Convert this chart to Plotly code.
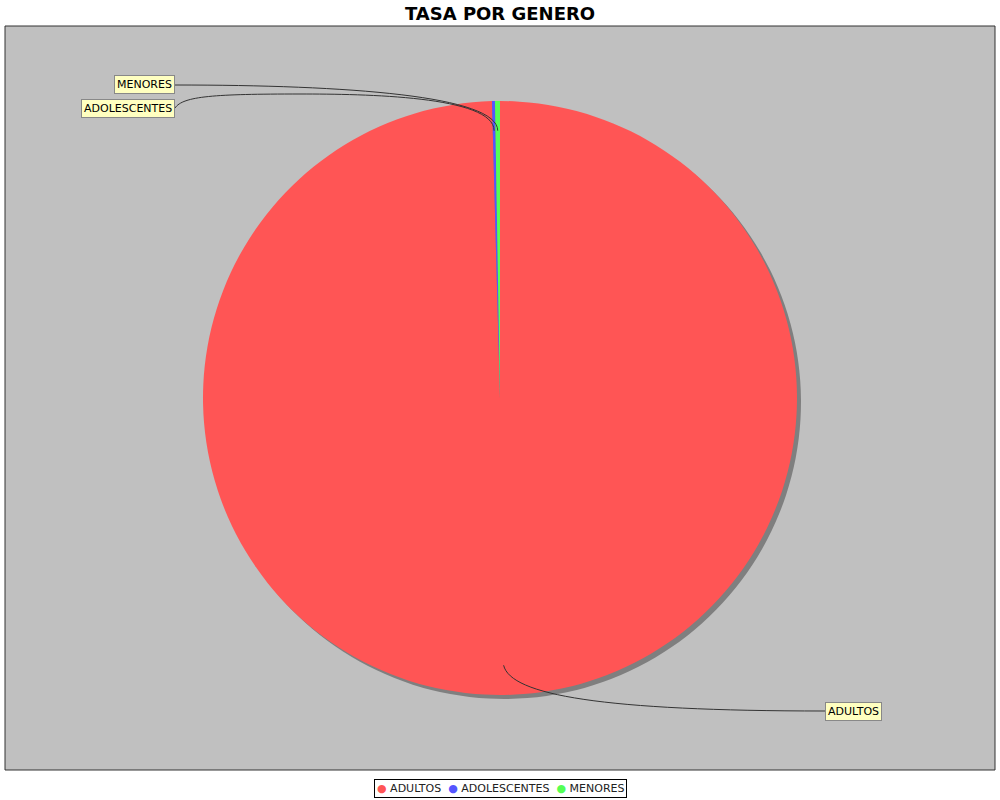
import math
import plotly.graph_objects as go

# ---- data ----
categories = ["ADULTOS", "ADOLESCENTES", "MENORES"]
values = [99.57, 0.16, 0.27]
colors = ["#FF5555", "#5555FF", "#55FF55"]
title_text = "TASA POR GENERO"

# ---- layout constants (pixels) ----
W, H = 1000, 800
CX, CY, R = 500, 398, 297
SHADOW = 4
PLOT_BOX = (5, 26, 995, 770)
# label boxes: (x, y, xanchor)
label_pos = {
    "ADULTOS": (825, 711, "left"),
    "ADOLESCENTES": (175, 108, "right"),
    "MENORES": (175, 85, "right"),
}


def px(x):
    return x / W


def py(y):
    return 1 - y / H


fig = go.Figure()

# shadow pie
fig.add_trace(go.Pie(
    labels=categories, values=values, sort=False, direction="clockwise", rotation=0,
    marker=dict(colors=["#7F7F7F"] * len(values), line=dict(width=0)),
    textinfo="none", hoverinfo="skip", showlegend=False,
    domain=dict(x=[px(CX - R + SHADOW), px(CX + R + SHADOW)],
                y=[py(CY + R + SHADOW), py(CY - R + SHADOW)]),
))
# main pie
fig.add_trace(go.Pie(
    labels=categories, values=values, sort=False, direction="clockwise", rotation=0,
    marker=dict(colors=colors, line=dict(width=0)),
    textinfo="none", showlegend=False,
    domain=dict(x=[px(CX - R), px(CX + R)], y=[py(CY + R), py(CY - R)]),
))

shapes = [dict(type="rect", xref="paper", yref="paper", layer="below",
               x0=px(PLOT_BOX[0]), x1=px(PLOT_BOX[2]), y0=py(PLOT_BOX[3]), y1=py(PLOT_BOX[1]),
               fillcolor="#C0C0C0", line=dict(color="#333333", width=1))]

annotations = []
total = sum(values)
cum = 0.0
for cat, v in zip(categories, values):
    mid = (cum + v / 2) / total * 2 * math.pi
    cum += v
    ax = CX + 0.9 * R * math.sin(mid)
    ay = CY - 0.9 * R * math.cos(mid)
    lx, ly, anchor = label_pos[cat]
    if cat == "ADULTOS":
        pts = [(ax, ay), (ax + 7, ay + 30), (ax + 100, ly), (lx, ly)]
        path = "M {} {} C {} {} {} {} {} {}".format(*[c for p in pts for c in (px(p[0]), py(p[1]))])
    elif cat == "MENORES":
        pts = [(ax, ay), (ax, ay - 35), (ax - 150, ly), (lx, ly)]
        path = "M {} {} C {} {} {} {} {} {}".format(*[c for p in pts for c in (px(p[0]), py(p[1]))])
    else:
        pts = [(ax, ay), (ax, ay - 35), (ax - 130, 94), (300, 94), (215, 94), (183, 96), (lx, ly)]
        coords = [c for p in pts for c in (px(p[0]), py(p[1]))]
        path = "M {} {} C {} {} {} {} {} {} C {} {} {} {} {} {}".format(*coords)
    shapes.append(dict(type="path", xref="paper", yref="paper", path=path,
                       line=dict(color="#333333", width=1)))
    annotations.append(dict(
        x=px(lx), y=py(ly), xref="paper", yref="paper", xanchor=anchor, yanchor="middle",
        text=cat, showarrow=False, bgcolor="#FFFFC0", bordercolor="#888888",
        borderwidth=1, borderpad=2,
        font=dict(family="DejaVu Sans", size=11, color="#000000"),
    ))

# legend built from categories/colors
legend_text = "  ".join(
    "<span style='color:{}'>●</span> {}".format(c, cat) for cat, c in zip(categories, colors)
)
annotations.append(dict(
    x=0.5, y=py(788), xref="paper", yref="paper", xanchor="center", yanchor="middle",
    text=legend_text, showarrow=False, bgcolor="#FFFFFF", bordercolor="#000000",
    borderwidth=1, borderpad=2,
    font=dict(family="DejaVu Sans", size=11, color="#222222"),
))

fig.update_layout(
    width=W, height=H, autosize=False,
    margin=dict(l=0, r=0, t=0, b=0),
    paper_bgcolor="#FFFFFF", plot_bgcolor="#FFFFFF",
    title=dict(text="<b>" + title_text + "</b>", x=0.5, xanchor="center",
               y=py(14), yanchor="middle",
               font=dict(family="DejaVu Sans", size=18, color="#000000")),
    shapes=shapes, annotations=annotations, showlegend=False,
)

fig.write_html("out.html", config={"displayModeBar": False},
               post_script="document.body.style.margin='0';")
